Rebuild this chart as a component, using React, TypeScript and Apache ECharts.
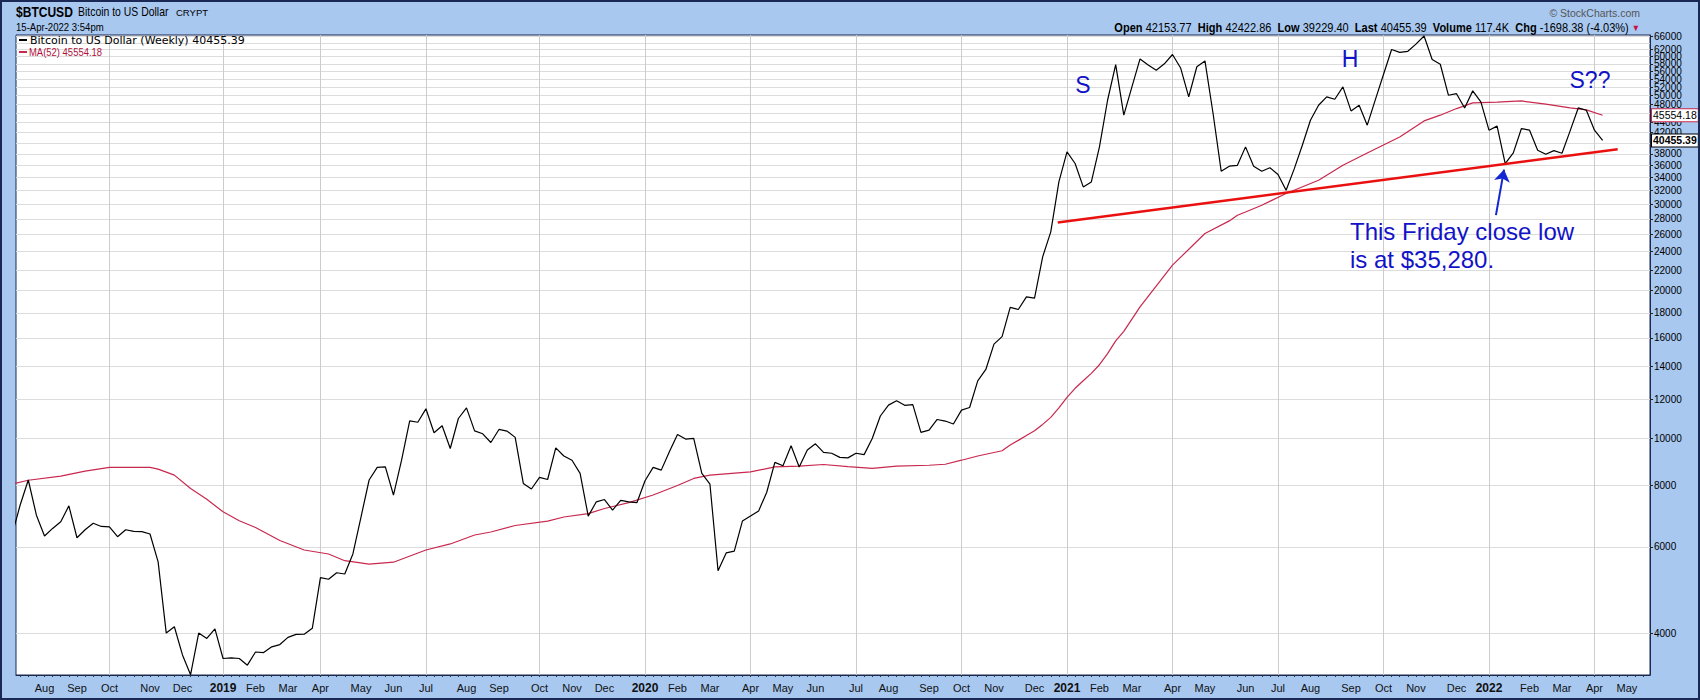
import React, { useEffect, useRef } from 'react';
import * as echarts from 'echarts';

const DAY = 86400000;
const ts = (s: string) => Date.parse(s + 'T00:00:00Z');

// Weekly closes (bars dated Monday), first bar 2018-07-09
const firstWeek = '2018-07-09';
const prices2018 = [6350, 7300, 8210, 6960, 6310, 6540, 6750, 7270, 6260, 6500, 6700, 6600, 6590, 6290, 6500, 6450, 6440, 6370, 5590, 4000, 4120, 3610, 3290, 4000, 3900, 4080];
const prices2019 = [3550, 3560, 3550, 3440, 3660, 3650, 3750, 3790, 3920, 3975, 3980, 4090, 5190, 5150, 5310, 5280, 5800, 6900, 8210, 8710, 8730, 7650, 9010, 10840, 10770, 11470, 10250, 10590, 9520, 10960, 11520, 10340, 10200, 9790, 10410, 10330, 10030, 8080, 7870, 8310, 8230, 9550, 9190, 9010, 8470, 6930, 7410, 7490, 7130, 7460, 7410, 7380];
const prices2020 = [8180, 8710, 8600, 9370, 10170, 9950, 9980, 8470, 8050, 5360, 5830, 5880, 6770, 6930, 7100, 7750, 8920, 8780, 9640, 8730, 9450, 9730, 9350, 9310, 9130, 9110, 9310, 9250, 9980, 11090, 11670, 11910, 11660, 11700, 10270, 10380, 10910, 10830, 10680, 11400, 11540, 13080, 13800, 15540, 16100, 18470, 18290, 19410, 19300, 23420, 26340, 33300];
const prices2021 = [38340, 36310, 32530, 33300, 39260, 48870, 57790, 45560, 52030, 59350, 57700, 56290, 58000, 60590, 56880, 49650, 57200, 58780, 45920, 35020, 35850, 36000, 39260, 35850, 35020, 35600, 34480, 32030, 35400, 39570, 44500, 47740, 49650, 49100, 52030, 46480, 47740, 43470, 49000, 55150, 62030, 61200, 61500, 63600, 66100, 59170, 57880, 50040, 50400, 47140, 51070, 48490];
const prices2022 = [42460, 43280, 36300, 38160, 42790, 42460, 38650, 37920, 38580, 38100, 42320, 47140, 46630, 42460, 40455.39];

// MA(52) read at selected weeks
const maDates = ['2018-07-09', '2018-07-23', '2018-08-20', '2018-09-10', '2018-10-01', '2018-11-05', '2018-11-12', '2018-11-26', '2018-12-10', '2018-12-24',
  '2019-01-07', '2019-01-21', '2019-02-04', '2019-02-25', '2019-03-18', '2019-04-08', '2019-04-22', '2019-05-13', '2019-06-03', '2019-07-01', '2019-07-22', '2019-08-12', '2019-08-26', '2019-09-16', '2019-10-14', '2019-10-28', '2019-11-18', '2019-12-02', '2019-12-23',
  '2020-01-13', '2020-02-03', '2020-02-17', '2020-03-02', '2020-04-06', '2020-04-27', '2020-05-18', '2020-06-08', '2020-06-29', '2020-07-20', '2020-08-10', '2020-09-07', '2020-09-21', '2020-10-05', '2020-10-19', '2020-11-09', '2020-11-16', '2020-11-23', '2020-11-30', '2020-12-07', '2020-12-14', '2020-12-21', '2020-12-28',
  '2021-01-04', '2021-01-11', '2021-01-18', '2021-01-25', '2021-02-01', '2021-02-08', '2021-02-15', '2021-02-22', '2021-03-08', '2021-04-05', '2021-05-03', '2021-05-24', '2021-05-31', '2021-06-07', '2021-06-21', '2021-07-12', '2021-08-09', '2021-08-30', '2021-09-20', '2021-10-18', '2021-11-08', '2021-11-22', '2021-12-06', '2021-12-20',
  '2022-01-10', '2022-01-31', '2022-02-21', '2022-03-14', '2022-03-28', '2022-04-11'];
const maValues = [8050, 8200, 8360, 8560, 8710, 8710, 8640, 8400, 7890, 7500,
  7070, 6780, 6570, 6180, 5910, 5800, 5620, 5530, 5580, 5910, 6080, 6340, 6430, 6630, 6770, 6900, 7010, 7180, 7380,
  7650, 8000, 8270, 8400, 8530, 8730, 8760, 8830, 8740, 8670, 8760, 8800, 8840, 9010, 9190, 9420, 9680, 9890, 10120, 10350, 10660, 11020, 11520,
  12100, 12630, 13090, 13550, 14110, 14860, 15780, 16500, 18520, 22520, 26140, 27730, 28480, 28920, 29850, 31540, 33570, 36020, 38160, 41130, 44350, 45560, 47000, 48270,
  48460, 48710, 47970, 47140, 46700, 45554.18];

const trendDates = ['2020-12-27', '2022-04-24'];
const trendValues = [27520, 38830];
const arrowDates = ['2022-01-09', '2022-01-16'];
const arrowValues = [28500, 35280];

const yTicks = [4000, 6000, 8000, 10000, 12000, 14000, 16000, 18000, 20000, 22000, 24000, 26000, 28000, 30000, 32000, 34000, 36000, 38000, 40000, 42000, 44000, 46000, 48000, 50000, 52000, 54000, 56000, 58000, 60000, 62000, 64000, 66000];
// labels hidden behind the last-value tags in the reference are left out
const yLabels = [4000, 6000, 8000, 10000, 12000, 14000, 16000, 18000, 20000, 22000, 24000, 26000, 28000, 30000, 32000, 34000, 36000, 38000, 42000, 44000, 48000, 50000, 52000, 54000, 56000, 58000, 60000, 62000, 64000, 66000];
const quarterDates = ['2018-10-01', '2019-01-07', '2019-04-01', '2019-07-01', '2019-10-07', '2020-01-06', '2020-04-06', '2020-07-06', '2020-10-05', '2021-01-04', '2021-04-05', '2021-07-05', '2021-10-04', '2022-01-03', '2022-04-04'];
const monthDates = ['2018-08-06', '2018-09-03', '2018-10-01', '2018-11-05', '2018-12-03',
  '2019-01-07', '2019-02-04', '2019-03-04', '2019-04-01', '2019-05-06', '2019-06-03', '2019-07-01', '2019-08-05', '2019-09-02', '2019-10-07', '2019-11-04', '2019-12-02',
  '2020-01-06', '2020-02-03', '2020-03-02', '2020-04-06', '2020-05-04', '2020-06-01', '2020-07-06', '2020-08-03', '2020-09-07', '2020-10-05', '2020-11-02', '2020-12-07',
  '2021-01-04', '2021-02-01', '2021-03-01', '2021-04-05', '2021-05-03', '2021-06-07', '2021-07-05', '2021-08-02', '2021-09-06', '2021-10-04', '2021-11-01', '2021-12-06',
  '2022-01-03', '2022-02-07', '2022-03-07', '2022-04-04', '2022-05-02'];
const monthNames = ['Jan', 'Feb', 'Mar', 'Apr', 'May', 'Jun', 'Jul', 'Aug', 'Sep', 'Oct', 'Nov', 'Dec'];

const lastPriceText = '40455.39';
const lastMaText = '45554.18';

const FONT = '"Liberation Sans", Arial, sans-serif';
const NAVY = '#1a2855';
const BLUE_TEXT = '#1212c8';
const GZ = 100;

export default function App() {
  const ref = useRef<HTMLDivElement>(null);
  useEffect(() => {
    document.body.style.margin = '0';
    const chart = echarts.init(ref.current!, null, { renderer: 'svg', width: 1700, height: 700 });

    const prices = [...prices2018, ...prices2019, ...prices2020, ...prices2021, ...prices2022];
    const t0 = ts(firstWeek);
    const priceData = prices.map((v, i) => [t0 + i * 7 * DAY, v]);
    const maData = maDates.map((d, i) => [ts(d), maValues[i]]);
    const anchor = ts('2019-01-07');
    const xMin = anchor - 178.6 * DAY;
    const xMax = anchor + 1230.9 * DAY;
    const weekTicks: number[] = [];
    for (let t = t0; t <= xMax; t += 7 * DAY) if (t >= xMin) weekTicks.push(t);
    const lastT = priceData[priceData.length - 1][0];
    const tagLabel = (text: string, border: string, bold: boolean) => ({
      show: true, position: 'end', distance: 2, formatter: text, color: '#000', fontSize: 10.5,
      fontWeight: bold ? 'bold' : 'normal', fontFamily: FONT, backgroundColor: '#ffffff',
      borderColor: border, borderWidth: 1, padding: [1, 1, 0, 1], opacity: 1,
    });

    const option: any = {
      animation: false,
      backgroundColor: '#a8c8f0',
      grid: {
        left: 16, right: 50, top: 35, bottom: 25, show: true, backgroundColor: '#ffffff',
        borderColor: NAVY, borderWidth: 1, containLabel: false, outerBoundsMode: 'none',
      },
      xAxis: [
        {
          type: 'value', min: xMin, max: xMax, position: 'bottom', scale: true,
          axisLine: { show: true, lineStyle: { color: NAVY, width: 1 } },
          axisTick: { show: true, customValues: weekTicks, length: 2, lineStyle: { color: '#333' } },
          axisLabel: {
            customValues: monthDates.map(ts), fontSize: 11, color: '#111', margin: 7, fontFamily: FONT,
            hideOverlap: false, showMinLabel: true, showMaxLabel: true,
            formatter: (v: number) => {
              const d = new Date(v);
              const m = d.getUTCMonth();
              return m === 0 ? '{y|' + d.getUTCFullYear() + '}' : monthNames[m];
            },
            rich: { y: { fontWeight: 'bold', fontSize: 12, fontFamily: FONT, color: '#111' } },
          },
          splitLine: { show: false },
        },
        {
          type: 'value', min: xMin, max: xMax, position: 'bottom', gridIndex: 0, scale: true,
          axisLine: { show: false }, axisLabel: { show: false },
          axisTick: { show: false, customValues: quarterDates.map(ts) },
          splitLine: { show: true, lineStyle: { color: '#cccccc', width: 1 } },
        },
      ],
      yAxis: {
        type: 'log', logBase: 10, min: 3285, max: 66400, position: 'right',
        axisLine: { show: true, lineStyle: { color: NAVY, width: 1 } },
        axisTick: { show: true, customValues: yTicks, length: 3, inside: false, lineStyle: { color: '#222' } },
        axisLabel: {
          customValues: yLabels, fontSize: 10, color: '#000', margin: 4, fontFamily: FONT, hideOverlap: false,
          showMinLabel: true, showMaxLabel: true,
          formatter: (v: number) => String(Math.round(v)),
        },
        splitLine: { show: true, lineStyle: { color: '#dcdcdc', width: 1 } },
      },
      series: [
        {
          type: 'line', name: 'MA(52)', data: maData, showSymbol: false, symbol: 'none', silent: true, z: 3,
          lineStyle: { color: '#c8284e', width: 1.2 }, itemStyle: { color: '#c8284e' },
        },
        {
          type: 'line', name: 'Bitcoin', data: priceData, showSymbol: false, symbol: 'none', silent: true, z: 4,
          lineStyle: { color: '#000000', width: 1.2 }, itemStyle: { color: '#000' },
        },
        {
          type: 'line', name: 'trend', data: trendDates.map((d, i) => [ts(d), trendValues[i]]), showSymbol: false,
          symbol: 'none', silent: true, z: 5, lineStyle: { color: '#ea1010', width: 2.6 },
          markLine: {
            silent: true, symbol: ['none', 'arrow'], symbolSize: 12,
            lineStyle: { color: '#1428d2', width: 2, type: 'solid' }, label: { show: false },
            data: [[{ coord: [ts(arrowDates[0]), arrowValues[0]] }, { coord: [ts(arrowDates[1]), arrowValues[1]] }]],
          },
        },
        {
          type: 'line', name: 'tags', data: [[lastT, prices[prices.length - 1]]], showSymbol: false, symbol: 'none',
          silent: true, clip: false, z: 6, lineStyle: { width: 0, color: 'rgba(0,0,0,0)' },
          markLine: {
            silent: true, symbol: ['none', 'none'], symbolSize: 0,
            lineStyle: { color: 'rgba(0,0,0,0)', width: 0 },
            data: [
              { yAxis: maValues[maValues.length - 1], label: tagLabel(lastMaText, '#c8284e', false) },
              { yAxis: prices[prices.length - 1], label: tagLabel(lastPriceText, '#000', true) },
            ],
          },
        },
      ],
      graphic: [
        { type: 'rect', silent: true, z: 200, shape: { x: 1, y: 1, width: 1698, height: 698 }, style: { fill: 'none', stroke: NAVY, lineWidth: 2 } },
        { type: 'text', silent: true, z: GZ, x: 16, y: 12, scaleX: 0.86, style: { text: '$BTCUSD', fontSize: 14, fontWeight: 'bold', fontFamily: FONT, fill: '#000', verticalAlign: 'middle' } },
        { type: 'text', silent: true, z: GZ, x: 78, y: 12, scaleX: 0.87, style: { text: 'Bitcoin to US Dollar', fontSize: 12, fontFamily: FONT, fill: '#000', verticalAlign: 'middle' } },
        { type: 'text', silent: true, z: GZ, x: 176, y: 12.5, style: { text: 'CRYPT', fontSize: 9.5, fontFamily: FONT, fill: '#000', verticalAlign: 'middle' } },
        { type: 'text', silent: true, z: GZ, x: 16, y: 27.5, scaleX: 0.87, style: { text: '15-Apr-2022 3:54pm', fontSize: 11, fontFamily: FONT, fill: '#000', verticalAlign: 'middle' } },
        { type: 'text', silent: true, z: GZ, x: 1640, y: 13, style: { text: '© StockCharts.com', fontSize: 10.5, fontFamily: FONT, fill: '#555', align: 'right', verticalAlign: 'middle' } },
        {
          type: 'text', silent: true, z: GZ, x: 1640, y: 27.5, scaleX: 0.92,
          style: {
            text: '{b|Open} {n|42153.77}  {b|High} {n|42422.86}  {b|Low} {n|39229.40}  {b|Last} {n|40455.39}  {b|Volume} {n|117.4K}  {b|Chg} {n|-1698.38 (-4.03%)} {t|▼}',
            align: 'right', verticalAlign: 'middle',
            rich: {
              b: { fontSize: 12, fontWeight: 'bold', fontFamily: FONT, fill: '#000' },
              n: { fontSize: 12, fontFamily: FONT, fill: '#000' },
              t: { fontSize: 9, fontFamily: FONT, fill: '#c8104a' },
            },
          },
        },
        { type: 'line', silent: true, z: GZ, shape: { x1: 19, y1: 40, x2: 27, y2: 40 }, style: { stroke: '#000', lineWidth: 2 } },
        { type: 'text', silent: true, z: GZ, x: 30, y: 40.5, style: { text: 'Bitcoin to US Dollar (Weekly) 40455.39', fontSize: 11, fontFamily: '"DejaVu Sans", Verdana, sans-serif', fill: '#000', verticalAlign: 'middle' } },
        { type: 'line', silent: true, z: GZ, shape: { x1: 19, y1: 52, x2: 27, y2: 52 }, style: { stroke: '#c8284e', lineWidth: 2 } },
        { type: 'text', silent: true, z: GZ, x: 29, y: 52, scaleX: 0.86, style: { text: 'MA(52) 45554.18', fontSize: 11, fontFamily: FONT, fill: '#b0103a', verticalAlign: 'middle' } },
        { type: 'text', silent: true, z: GZ, x: 1083, y: 85, style: { text: 'S', fontSize: 23, fontFamily: FONT, fill: BLUE_TEXT, align: 'center', verticalAlign: 'middle' } },
        { type: 'text', silent: true, z: GZ, x: 1350, y: 59, style: { text: 'H', fontSize: 23, fontFamily: FONT, fill: BLUE_TEXT, align: 'center', verticalAlign: 'middle' } },
        { type: 'text', silent: true, z: GZ, x: 1590, y: 80, style: { text: 'S??', fontSize: 23, fontFamily: FONT, fill: BLUE_TEXT, align: 'center', verticalAlign: 'middle' } },
        { type: 'text', silent: true, z: GZ, x: 1350, y: 231.5, style: { text: 'This Friday close low', fontSize: 24, fontFamily: FONT, fill: BLUE_TEXT, verticalAlign: 'middle' } },
        { type: 'text', silent: true, z: GZ, x: 1350, y: 259, style: { text: 'is at $35,280.', fontSize: 24, fontFamily: FONT, fill: BLUE_TEXT, verticalAlign: 'middle' } },
      ],
    };
    chart.setOption(option);
    return () => chart.dispose();
  }, []);
  return <div ref={ref} style={{ width: 1700, height: 700, position: 'absolute', left: 0, top: 0 }} />;
}
